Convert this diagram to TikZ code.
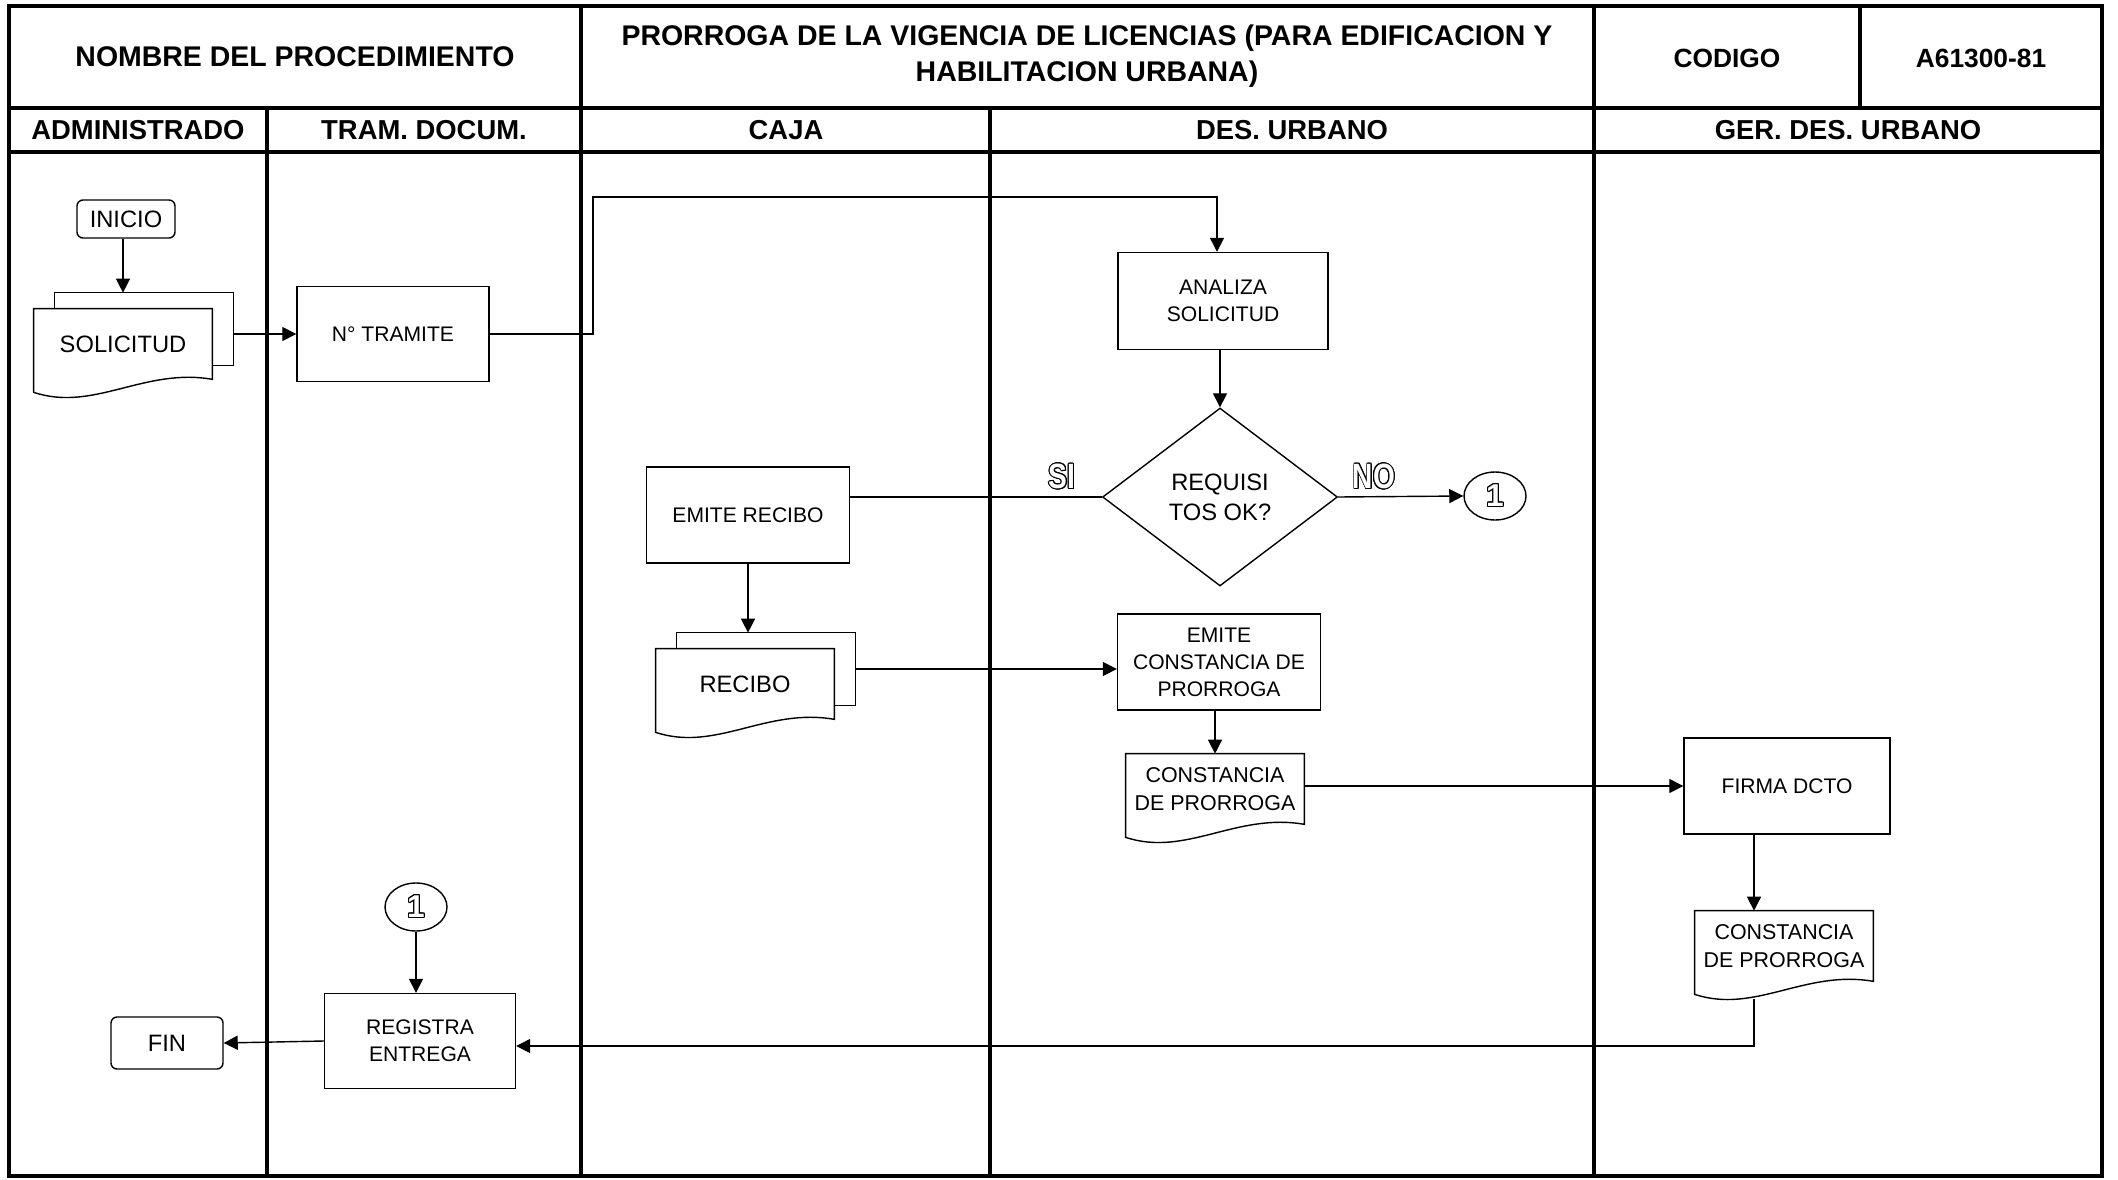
\documentclass[tikz,border=0pt]{standalone}
\usepackage{fontspec}
\setmainfont{Liberation Sans}
\usepackage{contour}
\contourlength{0.6pt}
\usepackage{tikz}
\usetikzlibrary{shapes.geometric}
\usetikzlibrary{arrows.meta, positioning}
\usetikzlibrary{backgrounds}

% hollow lettering used for SI / NO and the connector number
\newcommand{\hollow}[1]{\contour{black}{\textcolor{white}{#1}}}
% outline of a document with a wavy lower edge, around node #1
\newcommand{\docline}[1]{%
  \draw[shp, fill=white] (#1.north west) -- (#1.north east) -- (#1.south east)
    .. controls +(-1.36cm,0.24cm) and +(1.2cm,-0.4cm) .. ([yshift=-0.26cm]#1.south west) -- cycle;}

\begin{document}
\begin{tikzpicture}[
  x=0.02cm, y=-0.02cm,
  tbl/.style={line width=0.08cm, black},
  shp/.style={line width=0.8pt, black},
  proc/.style={rectangle, draw, line width=0.8pt, fill=white, inner sep=2pt,
               align=center, font=\fontsize{12}{15.4}\selectfont},
  term/.style={proc, rounded corners=0.12cm, font=\fontsize{13.5}{16}\selectfont},
  dec/.style={diamond, draw, line width=0.8pt, fill=white, inner sep=0pt,
              minimum width=4.7cm, minimum height=3.56cm, align=center,
              font=\fontsize{13.5}{17}\selectfont},
  conn/.style={ellipse, draw, line width=0.8pt, inner sep=0pt,
               minimum width=1.24cm, minimum height=0.96cm,
               font=\fontsize{18}{18}\selectfont\bfseries},
  docpg/.style={rectangle, inner sep=0pt, minimum width=3.56cm, minimum height=1.4cm,
                align=center, font=\fontsize{12.2}{16}\selectfont},
  pgback/.style={rectangle, inner sep=0pt, minimum width=3.56cm, minimum height=1.44cm},
  ttl/.style={align=center, font=\fontsize{16.2}{20.4}\selectfont\bfseries},
  hdr/.style={font=\fontsize{15.6}{18}\selectfont\bfseries},
  yn/.style={font=\fontsize{20}{20}\selectfont\bfseries, inner sep=1pt},
  flow/.style={-{Triangle[length=8pt,width=8pt]}, line width=0.8pt},
  link/.style={line width=0.8pt}]
\useasboundingbox (0,0) rectangle (2118,1179);
% --- table frame and lanes ---
\draw[tbl] (9,6) rectangle (2102,1176);
\draw[tbl] (9,108) -- (2102,108);
\draw[tbl] (9,152) -- (2102,152);
\foreach \x in {581,1594} \draw[tbl] (\x,6) -- (\x,1176);
\draw[tbl] (1860,6) -- (1860,108);
\foreach \x in {267,990} \draw[tbl] (\x,108) -- (\x,1176);
% --- title row ---
\node[ttl] (tNombre) at (295,57)  {NOMBRE DEL PROCEDIMIENTO};
\node[ttl] (tProc)   at (1087,56) {PRORROGA DE LA VIGENCIA DE LICENCIAS (PARA EDIFICACION Y\\HABILITACION URBANA)};
\node[ttl, font=\fontsize{15}{18}\selectfont\bfseries] (tCod) at (1727,58) {CODIGO};
\node[ttl, font=\fontsize{15}{18}\selectfont\bfseries] (tNum) at (1981,58) {A61300-81};
% --- lane headers ---
\node[hdr] (hAdm) at (138,130)  {ADMINISTRADO};
\node[hdr] (hTra) at (424,130)  {TRAM. DOCUM.};
\node[hdr] (hCaj) at (786,130)  {CAJA};
\node[hdr] (hDes) at (1292,130) {DES. URBANO};
\node[hdr] (hGer) at (1848,130) {GER. DES. URBANO};
% --- administrado ---
\node[term, minimum width=1.96cm, minimum height=0.76cm] (inicio) at (126,219) {INICIO};
\node[pgback] (solback) at (144,329) {};
\node[docpg, font=\fontsize{13.5}{16}\selectfont] (sol) at (123,344) {SOLICITUD};
\node[term, minimum width=2.24cm, minimum height=1.04cm] (fin) at (167,1043) {FIN};
% --- tram. docum. ---
\node[proc, minimum width=3.84cm, minimum height=1.9cm] (tram) at (393,334) {N° TRAMITE};
\node[conn] (c1b) at (416,907) {\hollow{1}};
\node[proc, minimum width=3.82cm, minimum height=1.9cm] (regis) at (420,1041) {REGISTRA\\ENTREGA};
% --- caja ---
\node[proc, minimum width=4.06cm, minimum height=1.92cm] (emrec) at (748,515) {EMITE RECIBO};
\node[pgback] (recback) at (766,669) {};
\node[docpg, font=\fontsize{13.5}{16}\selectfont] (rec) at (745,684) {RECIBO};
% --- des. urbano ---
\node[proc, minimum width=4.2cm, minimum height=1.94cm] (analiza) at (1223,301) {ANALIZA\\SOLICITUD};
\node[dec] (req) at (1220,497) {REQUISI\\TOS OK?};
\node[yn] (si) at (1062,477) {\scalebox{0.8}[1]{\hollow{SI}}};
\node[yn] (no) at (1374,477) {\scalebox{0.8}[1]{\hollow{NO}}};
\node[conn] (c1a) at (1495,496) {\hollow{1}};
\node[proc, minimum width=4.06cm, minimum height=1.92cm] (emcons) at (1219,662) {EMITE\\CONSTANCIA DE\\PRORROGA};
\node[docpg] (cons) at (1215,789) {CONSTANCIA\\DE PRORROGA};
% --- ger. des. urbano ---
\node[proc, minimum width=4.12cm, minimum height=1.92cm] (firma) at (1787,786) {FIRMA DCTO};
\node[docpg] (gercons) at (1784,946) {CONSTANCIA\\DE PRORROGA};
% document outlines go under their text
\begin{scope}[on background layer]
  \draw[shp, fill=white] (solback.north west) rectangle (solback.south east);
  \docline{sol}
  \draw[shp, fill=white] (recback.north west) rectangle (recback.south east);
  \docline{rec}
  \docline{cons}
  \docline{gercons}
\end{scope}
% --- connectors ---
\coordinate (bendA) at (593,197);
\coordinate (bendB) at (1217,197);
\coordinate (gerX)  at (1754,999);
\coordinate (gerY)  at (1754,1046);
\draw[flow] (inicio.south -| sol.north) -- (sol.north |- solback.north);
\draw[flow] (solback.east |- tram.west) -- (tram.west);
\draw[flow] (tram.east) -| (bendA) -- (bendB) -- (bendB |- analiza.north);
\draw[flow] (analiza.south -| req.north) -- (req.north);
\draw[link] (req.west) -- (req.west -| emrec.east);
\draw[flow] (req.east) -- (c1a.west);
\draw[flow] (emrec.south) -- (emrec.south |- recback.north);
\draw[flow] (recback.east) -- (recback.east -| emcons.west);
\draw[flow] (emcons.south -| cons.north) -- (cons.north);
\draw[flow] (cons.east |- firma.west) -- (firma.west);
\draw[flow] (firma.south -| gerX) -- (gercons.north -| gerX);
\draw[flow] (gerX) -- (gerY) -- (gerY -| regis.east);
\draw[flow] (c1b.south) -- (c1b.south |- regis.north);
\draw[flow] (regis.west) -- (fin.east);
\end{tikzpicture}
\end{document}
